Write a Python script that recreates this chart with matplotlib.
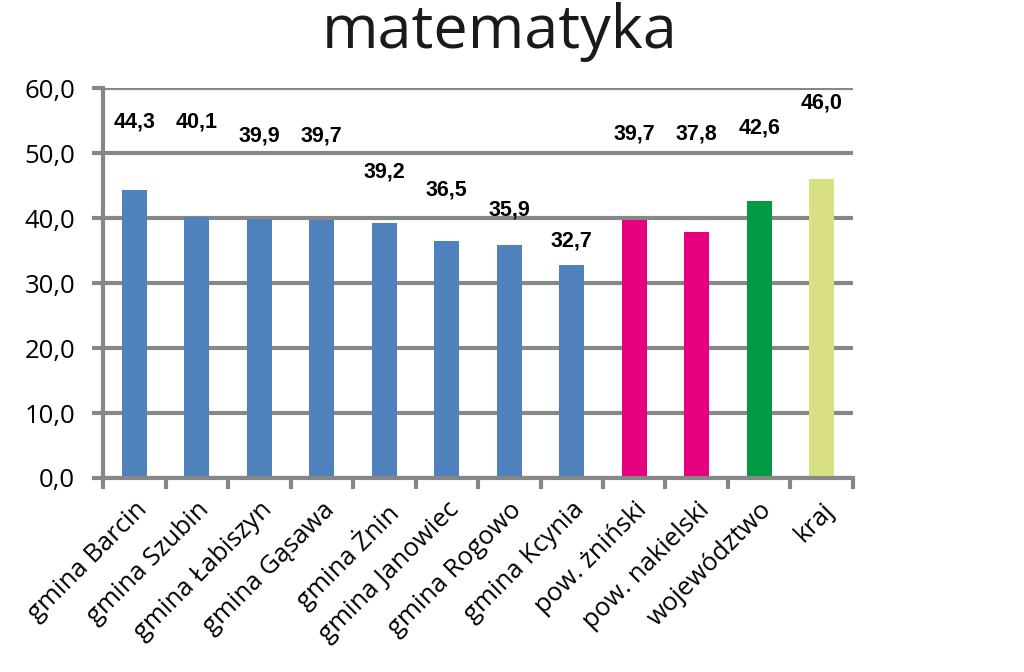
import matplotlib
matplotlib.use('Agg')
import matplotlib.pyplot as plt

# ---------- Data ----------
categories = ["gmina Barcin", "gmina Szubin", "gmina Łabiszyn", "gmina Gąsawa",
              "gmina Żnin", "gmina Janowiec", "gmina Rogowo", "gmina Kcynia",
              "pow. żniński", "pow. nakielski", "województwo", "kraj"]
values = [44.3, 40.1, 39.9, 39.7, 39.2, 36.5, 35.9, 32.7, 39.7, 37.8, 42.6, 46.0]

# ---------- Style ----------
BLUE = '#4f81bd'
PINK = '#e6007e'
GREEN = '#009a44'
LIME = '#d9e184'
GRID = '#878787'
bar_colors = [BLUE] * 8 + [PINK, PINK, GREEN, LIME]
# vertical placement of value labels (as in original, labels sit at fixed heights)
label_y = [54.8, 54.8, 52.6, 52.6, 47.1, 44.3, 41.2, 36.5, 52.9, 52.9, 53.8, 57.7]

fig = plt.figure(figsize=(10.24, 6.72), dpi=100)
ax = fig.add_axes([0.1006, 0.2887, 0.7324, 0.5803])

x = list(range(len(categories)))
ax.bar(x, values, width=0.4, color=bar_colors, zorder=3)

for xi, v, ly in zip(x, values, label_y):
    ax.text(xi, ly, f"{v:.1f}".replace('.', ','), ha='center', va='center',
            fontsize=15.5, fontweight='bold', family='Liberation Sans', zorder=4)

ax.set_xlim(-0.5, len(categories) - 0.5)
ax.set_ylim(0, 60)
ax.set_yticks(range(0, 61, 10))
ax.set_yticklabels([f"{t},0" for t in range(0, 61, 10)], family='Open Sans', fontsize=18.5)

ax.set_xticks([i + 0.5 for i in range(-1, len(categories))], minor=False)
ax.set_xticklabels([])
ax.set_xticks(x, minor=True)
ax.set_xticklabels(categories, minor=True, rotation=45, ha='right',
                   rotation_mode='anchor', family='Open Sans', fontsize=18.5)
ax.tick_params(axis='x', which='minor', length=0, pad=14)
ax.tick_params(axis='x', which='major', length=8, width=3, color=GRID, direction='out')
ax.tick_params(axis='y', length=8, width=3, color=GRID, direction='out', pad=12)

ax.yaxis.grid(True, color=GRID, linewidth=3, zorder=0)
ax.set_axisbelow(True)
for s in ['top', 'right']:
    ax.spines[s].set_visible(False)
for s in ['left', 'bottom']:
    ax.spines[s].set_color(GRID)
    ax.spines[s].set_linewidth(3)
    ax.spines[s].set_zorder(5)

fig.text(0.4883, 0.952, "matematyka", ha='center', va='center',
         fontsize=44, family='Open Sans', color='#1a1a1a')

fig.savefig("out.png", dpi=100)
